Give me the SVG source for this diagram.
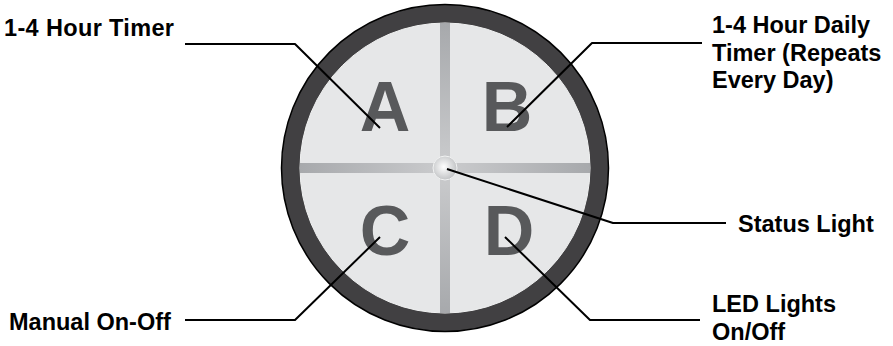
<svg xmlns="http://www.w3.org/2000/svg" width="893" height="346" viewBox="0 0 893 346">
<defs>
<style>
.lbl{font-family:"Liberation Sans",Arial,sans-serif;font-weight:bold;font-size:23.5px;fill:#000}
.letter{font-family:"Liberation Sans",Arial,sans-serif;font-weight:bold;font-size:70px;fill:#58595b;text-anchor:middle}
.conn{fill:none;stroke:#000;stroke-width:2;stroke-linejoin:round}
</style>
<linearGradient id="hbar" x1="0" y1="0" x2="1" y2="0">
<stop offset="0" stop-color="#a7a9ac"/><stop offset="0.45" stop-color="#c7c8ca"/><stop offset="0.55" stop-color="#c7c8ca"/><stop offset="1" stop-color="#a7a9ac"/>
</linearGradient>
<linearGradient id="vbar" x1="0" y1="0" x2="0" y2="1">
<stop offset="0" stop-color="#a7a9ac"/><stop offset="0.45" stop-color="#c7c8ca"/><stop offset="0.55" stop-color="#c7c8ca"/><stop offset="1" stop-color="#a7a9ac"/>
</linearGradient>
<radialGradient id="led" cx="0.45" cy="0.45" r="0.6">
<stop offset="0" stop-color="#ffffff"/><stop offset="1" stop-color="#bcbec0"/>
</radialGradient>
</defs>
<g id="dial">
<circle cx="445" cy="168" r="163.5" fill="#414042" stroke="#000" stroke-width="1.5"/>
<circle cx="445" cy="168" r="145" fill="#e6e7e8" stroke="#f1f2f2" stroke-width="1"/>
<rect x="300" y="163" width="290" height="10" fill="url(#hbar)"/>
<rect x="440" y="23" width="10" height="290" fill="url(#vbar)"/>
<circle cx="445" cy="168" r="12" fill="url(#led)" stroke="#f1f2f2" stroke-width="1"/>
</g>
<g id="keyA"><text class="letter" x="385" y="131">A</text></g>
<g id="keyB"><text class="letter" x="507" y="131">B</text></g>
<g id="keyC"><text class="letter" x="385" y="255">C</text></g>
<g id="keyD"><text class="letter" x="509" y="255">D</text></g>
<g id="connectors">
<path class="conn" d="M185,44 H295 L380,128"/>
<path class="conn" d="M507,127 L592,43 H702"/>
<path class="conn" d="M447,169 L613,223 H726"/>
<path class="conn" d="M380,237 L295,320 H185"/>
<path class="conn" d="M505,237 L590,320 H700"/>
</g>
<g id="label-a"><text class="lbl" x="4" y="36" textLength="170" lengthAdjust="spacing">1-4 Hour Timer</text></g>
<g id="label-b"><text class="lbl" x="712" y="33">1-4 Hour Daily<tspan x="712" y="61">Timer (Repeats</tspan><tspan x="712" y="88">Every Day)</tspan></text></g>
<g id="label-status"><text class="lbl" x="738" y="232">Status Light</text></g>
<g id="label-c"><text class="lbl" x="9" y="330">Manual On-Off</text></g>
<g id="label-d"><text class="lbl" x="712" y="312">LED Lights<tspan x="712" y="340">On/Off</tspan></text></g>
</svg>
